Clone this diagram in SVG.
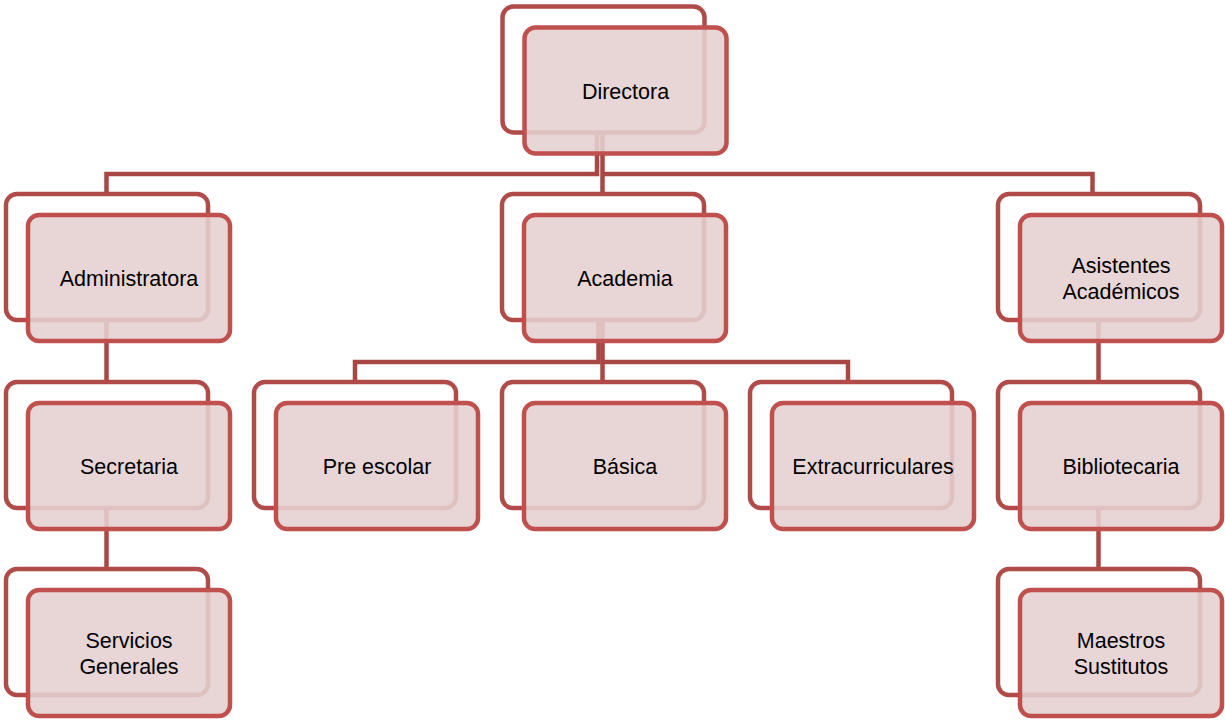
<svg xmlns="http://www.w3.org/2000/svg" width="1225" height="721" viewBox="0 0 1225 721">
<defs>
<style>
.bg{fill:#ffffff}
.con{fill:none;stroke:#a94745;stroke-width:4.5;stroke-linejoin:miter}
.back{fill:none;stroke:#b04b49;stroke-width:4.5}
.front{fill:rgb(229,208,208);fill-opacity:0.89;stroke:#c0504d;stroke-width:4.5}
.t{font-family:"Liberation Sans",Arial,sans-serif;font-size:21.5px;fill:#000000;text-anchor:middle}
</style>
</defs>
<rect class="bg" x="0" y="0" width="1225" height="721"/>
<g id="connectors">
<path class="con" d="M597,132 V174 H106.5 V194"/>
<path class="con" d="M602.5,132 V194"/>
<path class="con" d="M602.5,174 H1092.5 V194"/>
<path class="con" d="M598.5,320 V362 H355 V382"/>
<path class="con" d="M602.5,320 V382"/>
<path class="con" d="M602.5,362 H848 V382"/>
<path class="con" d="M106.5,320 V382"/>
<path class="con" d="M106.5,508 V569"/>
<path class="con" d="M1098.5,320 V382"/>
<path class="con" d="M1098.5,508 V569"/>
</g>
<g id="directora">
<rect class="back" x="502.5" y="6.5" width="202" height="126" rx="11"/>
<rect class="front" x="524.5" y="27.5" width="202" height="126" rx="11"/>
<text class="t" x="625.5" y="98.5">Directora</text>
</g>
<g id="administratora">
<rect class="back" x="6" y="194" width="202" height="126" rx="11"/>
<rect class="front" x="28" y="215" width="202" height="126" rx="11"/>
<text class="t" x="129" y="286">Administratora</text>
</g>
<g id="academia">
<rect class="back" x="502" y="194" width="202" height="126" rx="11"/>
<rect class="front" x="524" y="215" width="202" height="126" rx="11"/>
<text class="t" x="625" y="286">Academia</text>
</g>
<g id="asistentes">
<rect class="back" x="998" y="194" width="202" height="126" rx="11"/>
<rect class="front" x="1020" y="215" width="202" height="126" rx="11"/>
<text class="t" x="1121" y="272.5">Asistentes</text>
<text class="t" x="1121" y="298.5">Académicos</text>
</g>
<g id="secretaria">
<rect class="back" x="6" y="382" width="202" height="126" rx="11"/>
<rect class="front" x="28" y="403" width="202" height="126" rx="11"/>
<text class="t" x="129" y="474">Secretaria</text>
</g>
<g id="preescolar">
<rect class="back" x="254" y="382" width="202" height="126" rx="11"/>
<rect class="front" x="276" y="403" width="202" height="126" rx="11"/>
<text class="t" x="377" y="474">Pre escolar</text>
</g>
<g id="basica">
<rect class="back" x="502" y="382" width="202" height="126" rx="11"/>
<rect class="front" x="524" y="403" width="202" height="126" rx="11"/>
<text class="t" x="625" y="474">Básica</text>
</g>
<g id="extracurriculares">
<rect class="back" x="750" y="382" width="202" height="126" rx="11"/>
<rect class="front" x="772" y="403" width="202" height="126" rx="11"/>
<text class="t" x="873" y="474">Extracurriculares</text>
</g>
<g id="bibliotecaria">
<rect class="back" x="998" y="382" width="202" height="126" rx="11"/>
<rect class="front" x="1020" y="403" width="202" height="126" rx="11"/>
<text class="t" x="1121" y="474">Bibliotecaria</text>
</g>
<g id="servicios">
<rect class="back" x="6" y="569" width="202" height="126" rx="11"/>
<rect class="front" x="28" y="590" width="202" height="126" rx="11"/>
<text class="t" x="129" y="647.5">Servicios</text>
<text class="t" x="129" y="673.5">Generales</text>
</g>
<g id="maestros">
<rect class="back" x="998" y="569" width="202" height="126" rx="11"/>
<rect class="front" x="1020" y="590" width="202" height="126" rx="11"/>
<text class="t" x="1121" y="647.5">Maestros</text>
<text class="t" x="1121" y="673.5">Sustitutos</text>
</g>
</svg>
